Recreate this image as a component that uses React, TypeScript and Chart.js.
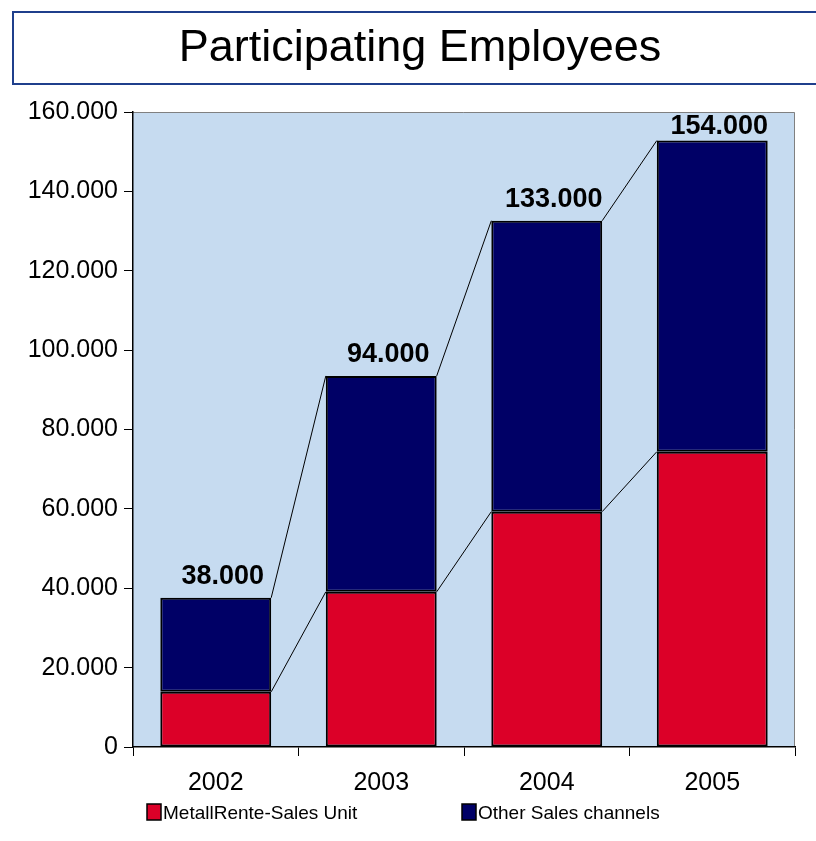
import React, { useEffect, useRef } from "react";
import { Chart, registerables } from "chart.js";

Chart.register(...registerables);

const chartTitle = "Participating Employees";
const years = ["2002", "2003", "2004", "2005"];
const seriesNames = ["MetallRente-Sales Unit", "Other Sales channels"];
const metallRente = [13900, 39100, 59300, 74400];
const otherChannels = [23700, 54400, 73300, 78400];
const totalLabels = ["38.000", "94.000", "133.000", "154.000"];
const yMin = 0;
const yMax = 160000;
const yStep = 20000;

const RED = "#DC0028";
const NAVY = "#000066";
const PLOT_BG = "#C6DBF0";
const FONT = "'Liberation Sans', Arial, Helvetica, sans-serif";

function fmtThousands(v: number): string {
  if (v === 0) return "0";
  const s = Math.round(v).toString();
  return s.replace(/\B(?=(\d{3})+(?!\d))/g, ".");
}

const decorPlugin = {
  id: "decor",
  beforeDraw(chart: any) {
    const { ctx, chartArea } = chart;
    ctx.save();
    ctx.fillStyle = "#FFFFFF";
    ctx.fillRect(0, 0, chart.width, chart.height);
    // title box
    ctx.strokeStyle = "#1F3F8C";
    ctx.lineWidth = 2;
    ctx.strokeRect(13, 12, 900, 72);
    // plot background
    ctx.fillStyle = PLOT_BG;
    ctx.fillRect(chartArea.left, chartArea.top, chartArea.right - chartArea.left, chartArea.bottom - chartArea.top);
    ctx.strokeStyle = "#808080";
    ctx.lineWidth = 1;
    ctx.beginPath();
    ctx.moveTo(chartArea.left, chartArea.top + 0.5);
    ctx.lineTo(chartArea.right - 0.5, chartArea.top + 0.5);
    ctx.lineTo(chartArea.right - 0.5, chartArea.bottom);
    ctx.stroke();
    ctx.restore();
  },
  afterDatasetsDraw(chart: any) {
    const { ctx, chartArea } = chart;
    ctx.save();
    ctx.strokeStyle = "#000000";
    ctx.lineWidth = 1;
    for (let d = 0; d < chart.data.datasets.length; d++) {
      const meta = chart.getDatasetMeta(d);
      for (let i = 0; i < meta.data.length - 1; i++) {
        const a = meta.data[i];
        const b = meta.data[i + 1];
        ctx.beginPath();
        ctx.moveTo(a.x + a.width / 2, a.y);
        ctx.lineTo(b.x - b.width / 2, b.y);
        ctx.stroke();
      }
    }
    const topMeta = chart.getDatasetMeta(chart.data.datasets.length - 1);
    ctx.fillStyle = "#000000";
    ctx.font = `bold 27px ${FONT}`;
    ctx.textAlign = "center";
    ctx.textBaseline = "alphabetic";
    topMeta.data.forEach((el: any, i: number) => {
      const baseline = Math.max(el.y - 14, chartArea.top + 22);
      ctx.fillText(totalLabels[i], el.x + 7, baseline);
    });
    ctx.restore();
  },
  afterDraw(chart: any) {
    const { ctx } = chart;
    ctx.save();
    ctx.fillStyle = "#000000";
    ctx.font = `45px ${FONT}`;
    ctx.textAlign = "center";
    ctx.textBaseline = "middle";
    ctx.fillText(chartTitle, 420, 49);
    // legend
    const items = [
      { x: 147, label: chart.data.datasets[0].label, color: chart.data.datasets[0].backgroundColor },
      { x: 462, label: chart.data.datasets[1].label, color: chart.data.datasets[1].backgroundColor },
    ];
    ctx.font = `19px ${FONT}`;
    ctx.textAlign = "left";
    items.forEach((it) => {
      ctx.fillStyle = it.color;
      ctx.fillRect(it.x, 804, 14, 16);
      ctx.strokeStyle = "#000000";
      ctx.lineWidth = 1.5;
      ctx.strokeRect(it.x, 804, 14, 16);
      ctx.fillStyle = "#000000";
      ctx.fillText(it.label, it.x + 16, 814);
    });
    ctx.restore();
  },
};

export default function App() {
  const ref = useRef<HTMLCanvasElement | null>(null);
  useEffect(() => {
    if (!ref.current) return;
    const chart = new Chart(ref.current, {
      type: "bar",
      data: {
        labels: years,
        datasets: [
          {
            label: seriesNames[0],
            data: metallRente,
            backgroundColor: RED,
            borderColor: "#000000",
            borderWidth: 2,
            borderSkipped: false,
          },
          {
            label: seriesNames[1],
            data: otherChannels,
            backgroundColor: NAVY,
            borderColor: "#000000",
            borderWidth: 2,
            borderSkipped: false,
          },
        ],
      },
      options: {
        responsive: false,
        animation: false,
        devicePixelRatio: 1,
        layout: { padding: { top: 112, right: 21, bottom: 34, left: 0 } },
        plugins: {
          legend: { display: false },
          title: { display: false },
          tooltip: { enabled: false },
        },
        datasets: { bar: { barPercentage: 0.67, categoryPercentage: 1 } },
        scales: {
          x: {
            stacked: true,
            ticks: { color: "#000", font: { size: 25, family: FONT }, padding: 12 },
            grid: { drawOnChartArea: false, drawTicks: true, tickLength: 9, color: "#000", offset: true },
            border: { display: true, color: "#000", width: 1.5 },
            afterFit: (s: any) => { s.height = 60; },
          },
          y: {
            stacked: true,
            min: yMin,
            max: yMax,
            ticks: {
              stepSize: yStep,
              color: "#000",
              font: { size: 25, family: FONT },
              padding: 6,
              callback: (v: any) => fmtThousands(Number(v)),
            },
            grid: { drawOnChartArea: false, drawTicks: true, tickLength: 9, color: "#000" },
            border: { display: true, color: "#000", width: 1.5 },
            afterFit: (s: any) => { s.width = 133; },
          },
        },
      },
      plugins: [decorPlugin],
    } as any);
    return () => chart.destroy();
  }, []);
  return (
    <div style={{ position: "fixed", left: 0, top: 0, width: 816, height: 841 }}>
      <canvas ref={ref} width={816} height={841} style={{ width: 816, height: 841, display: "block" }} />
    </div>
  );
}
